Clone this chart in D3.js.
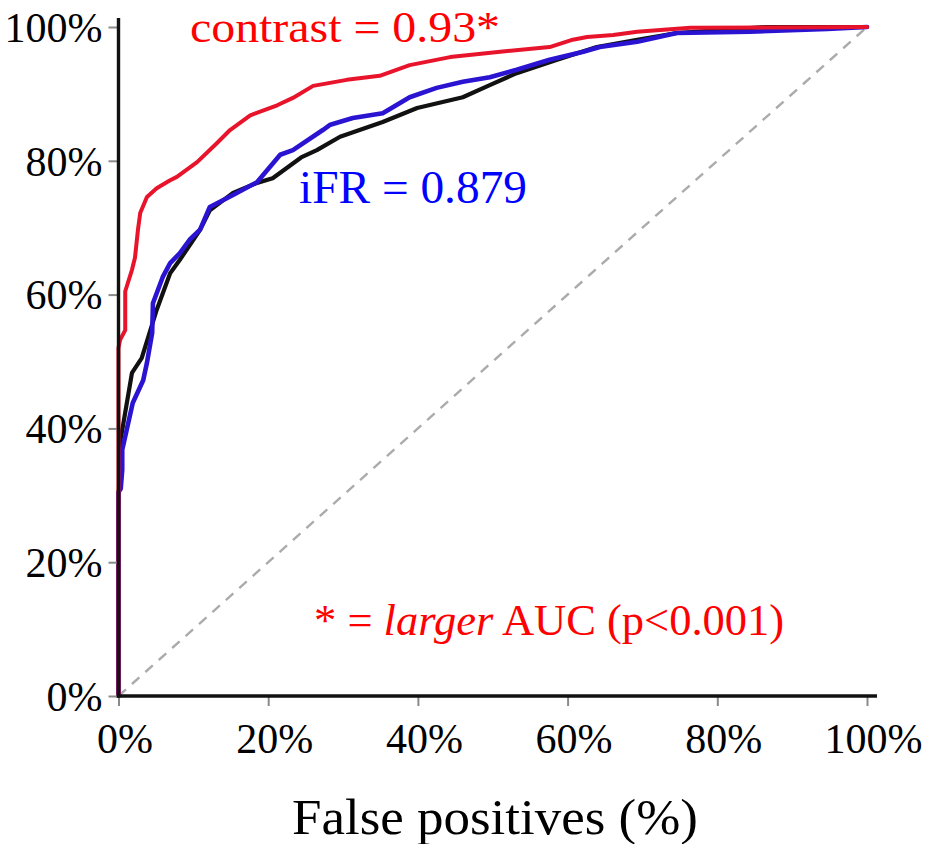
<!DOCTYPE html>
<html>
<head>
<meta charset="utf-8">
<script src="https://cdn.jsdelivr.net/npm/d3@7"></script>
<style>
  html, body { margin: 0; padding: 0; background: #fff; }
  svg { display: block; }
  text { font-family: "Liberation Serif", "Times New Roman", serif; }
</style>
</head>
<body>
<svg id="chart" width="934" height="844"></svg>
<script>
// ROC curves: [false positive %, true positive %]
const contrastROC = [
  [0, 0], [0, 52], [0.2, 53.2], [0.9, 54.7], [0.9, 60.5], [1.8, 63.7], [2.2, 65.5],
  [2.6, 69.7], [2.9, 72.2], [3.8, 74.6], [5.1, 75.9], [6.9, 77.1], [7.8, 77.6],
  [10.5, 79.8], [13.2, 82.7], [14.9, 84.6], [17.6, 86.8], [21.2, 88.3], [23.3, 89.4],
  [26, 91.2], [30.5, 92.1], [34.9, 92.7], [38.9, 94.3], [44.3, 95.5], [51, 96.3],
  [57.6, 97], [60.7, 98.1], [62.6, 98.5], [66.1, 98.8], [69.3, 99.3], [76.4, 99.9],
  [100, 100]
];
const ifrROC = [
  [0, 0], [0, 30.5], [0.3, 31], [0.5, 33.8], [0.5, 36.8], [1.1, 39.8], [1.9, 43.8],
  [3.3, 47.2], [3.8, 49.8], [4.5, 54.3], [4.6, 58.7], [5.9, 62.6], [6.9, 64.7],
  [8.2, 66.2], [9.5, 68.2], [10.9, 69.7], [12.2, 73.1], [15.3, 74.9], [18.5, 76.8],
  [21.6, 80.9], [23.3, 81.6], [27.3, 84.6], [28.3, 85.4], [31.3, 86.4], [35.3, 87.1],
  [38.9, 89.5], [42.5, 90.9], [46, 91.8], [49.6, 92.5], [53.2, 93.6], [57.6, 95.1],
  [62.1, 96.3], [64.3, 97], [69.3, 97.8], [74.6, 99.1], [84.4, 99.3], [94.7, 99.7],
  [100, 100]
];
const otherROC = [
  [0, 0], [0, 27.5], [0.2, 37.8], [1.8, 48.3], [3.1, 50.5], [5.1, 57.7], [6.9, 63.2],
  [8.2, 65.2], [10.9, 69.7], [12.2, 72.6], [15.3, 75.2], [18.5, 76.7], [20.6, 77.4],
  [24.4, 80.5], [26.5, 81.6], [29.6, 83.6], [35.3, 85.8], [39.9, 87.9], [46, 89.5],
  [49.6, 91.3], [53.2, 93.1], [58.6, 95.1], [63.9, 97], [69.3, 98.1], [74.6, 99.1],
  [86.6, 100], [100, 100]
];
const chanceLine = [[0, 0], [100, 100]];

const xTicks = [0, 20, 40, 60, 80, 100];
const yTicks = [0, 20, 40, 60, 80, 100];

const svg = d3.select("#chart");
const x = d3.scaleLinear().domain([0, 100]).range([118.5, 867]);
const y = d3.scaleLinear().domain([0, 100]).range([696, 27]);
const line = d3.line().x(d => x(d[0])).y(d => y(d[1]));

// diagonal reference
svg.append("path")
  .attr("d", line(chanceLine))
  .attr("fill", "none")
  .attr("stroke", "#ababab")
  .attr("stroke-width", 2.4)
  .attr("stroke-dasharray", "10,8");

// curves
const curves = [
  { data: otherROC, color: "#111111", width: 4.2 },
  { data: ifrROC, color: "#2a14d2", width: 4.6 },
  { data: contrastROC, color: "#e8142c", width: 4 }
];
curves.forEach(c => {
  svg.append("path")
    .attr("d", line(c.data))
    .attr("fill", "none")
    .attr("stroke", c.color)
    .attr("stroke-width", c.width)
    .attr("stroke-linejoin", "round")
    .attr("stroke-linecap", "round");
});

// axes
const fmt = d => d + "%";
const xAxis = d3.axisBottom(x).tickValues(xTicks).tickFormat(fmt).tickSize(10).tickPadding(17);
const yAxis = d3.axisLeft(y).tickValues(yTicks).tickFormat(fmt).tickSize(10).tickPadding(6);

const gx = svg.append("g").attr("transform", "translate(0,696)").call(xAxis);
const gy = svg.append("g").attr("transform", "translate(118.5,0)").call(yAxis);
[gx, gy].forEach(g => {
  g.select(".domain").remove();
  g.selectAll(".tick line").attr("stroke", "#8a8a8a").attr("stroke-width", 2);
  g.selectAll(".tick text")
    .attr("fill", "#000")
    .style("font-family", '"Liberation Serif", "Times New Roman", serif')
    .style("font-size", "42px");
});
gx.selectAll(".tick text").attr("dx", 6);
gy.selectAll(".tick text").attr("dy", "0.34em");

// axis lines, slightly longer than the data range
svg.append("line")
  .attr("x1", x(0)).attr("x2", x(0))
  .attr("y1", y(0) + 1.5).attr("y2", 18)
  .attr("stroke", "#111").attr("stroke-width", 3.4);
svg.append("line")
  .attr("x1", x(0) - 1.5).attr("x2", 877)
  .attr("y1", y(0)).attr("y2", y(0))
  .attr("stroke", "#111").attr("stroke-width", 3.4);

// labels
svg.append("text")
  .attr("x", 190).attr("y", 42)
  .attr("fill", "#ff0000")
  .attr("textLength", 310)
  .attr("lengthAdjust", "spacingAndGlyphs")
  .style("font-size", "45px")
  .text("contrast = 0.93*");

svg.append("text")
  .attr("x", 299).attr("y", 203)
  .attr("fill", "#0000ff")
  .attr("textLength", 228)
  .attr("lengthAdjust", "spacingAndGlyphs")
  .style("font-size", "46px")
  .text("iFR = 0.879");

const note = svg.append("text")
  .attr("x", 314).attr("y", 635)
  .attr("fill", "#ff0000")
  .style("font-size", "44.5px");
note.append("tspan").text("* = ");
note.append("tspan").style("font-style", "italic").text("larger");
note.append("tspan").text(" AUC (p<0.001)");

svg.append("text")
  .attr("x", 292).attr("y", 834)
  .attr("fill", "#000")
  .attr("textLength", 406)
  .attr("lengthAdjust", "spacingAndGlyphs")
  .style("font-size", "50px")
  .text("False positives (%)");
</script>
</body>
</html>
